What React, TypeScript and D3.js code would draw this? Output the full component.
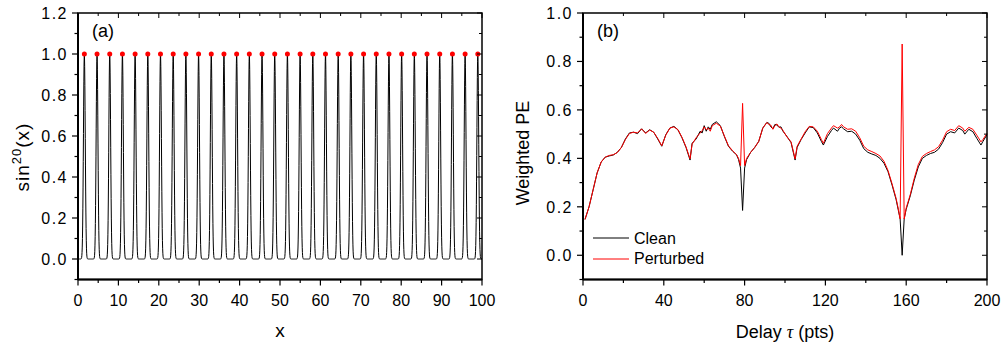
import * as d3 from 'd3';
import React from 'react';

const FONT = '"Liberation Sans", Arial, Helvetica, sans-serif';

// ---- panel (a): sin^20(x) with its maxima marked ----
const sinPower = 20;
const sinXTicks = [0, 10, 20, 30, 40, 50, 60, 70, 80, 90, 100];
const sinXMinor = [5, 15, 25, 35, 45, 55, 65, 75, 85, 95];
const sinYTicks = [0.0, 0.2, 0.4, 0.6, 0.8, 1.0, 1.2];
const sinYMinor = [-0.1, 0.1, 0.3, 0.5, 0.7, 0.9, 1.1];

// ---- panel (b): weighted permutation entropy vs delay ----
const tau = [
  1, 3, 5, 7, 9, 11, 13, 15, 17, 19, 21, 23, 25, 27, 29, 31, 33, 35, 37, 39,
  41, 43, 45, 47, 49, 51, 53, 54, 56, 58, 59, 60, 61, 62, 63, 64, 66, 68, 70, 72,
  74, 76, 77, 78, 79, 80, 81, 83, 85, 87, 89, 91, 92, 93, 94, 95, 96, 97, 98, 99,
  101, 103, 105, 106, 108, 110, 112, 114, 116, 118, 119, 121, 123, 124, 126, 127, 128, 129, 131, 133,
  135, 137, 139, 141, 143, 145, 147, 149, 151, 153, 155, 156, 157, 158, 159, 160, 162, 164, 166, 168,
  170, 172, 174, 176, 178, 180, 182, 184, 186, 188, 189, 191, 193, 195, 197, 198, 200,
];
const clean = [
  0.148, 0.2, 0.27, 0.34, 0.385, 0.405, 0.41, 0.414, 0.425, 0.445, 0.48, 0.505, 0.508, 0.502, 0.522, 0.505, 0.518, 0.508, 0.48, 0.45,
  0.498, 0.525, 0.532, 0.518, 0.485, 0.445, 0.393, 0.462, 0.48, 0.512, 0.505, 0.535, 0.512, 0.53, 0.52, 0.54, 0.551, 0.535, 0.49, 0.45,
  0.43, 0.415, 0.395, 0.36, 0.185, 0.36, 0.395, 0.425, 0.445, 0.47, 0.525, 0.548, 0.545, 0.53, 0.522, 0.54, 0.538, 0.528, 0.53, 0.512,
  0.49, 0.465, 0.393, 0.445, 0.478, 0.505, 0.53, 0.527, 0.505, 0.47, 0.455, 0.49, 0.515, 0.525, 0.512, 0.525, 0.53, 0.522, 0.51, 0.512,
  0.5, 0.475, 0.44, 0.425, 0.418, 0.412, 0.4, 0.38, 0.345, 0.29, 0.23, 0.19, 0.15, 0.0, 0.15, 0.19, 0.245, 0.31, 0.365, 0.4,
  0.412, 0.42, 0.425, 0.438, 0.465, 0.5, 0.51, 0.505, 0.525, 0.515, 0.5, 0.52, 0.51, 0.482, 0.455, 0.47, 0.498,
];
const perturbed = [
  0.148, 0.2, 0.27, 0.34, 0.385, 0.405, 0.412, 0.415, 0.424, 0.445, 0.478, 0.503, 0.508, 0.505, 0.522, 0.503, 0.517, 0.508, 0.482, 0.452,
  0.496, 0.525, 0.53, 0.518, 0.487, 0.447, 0.398, 0.458, 0.485, 0.505, 0.515, 0.53, 0.518, 0.525, 0.512, 0.535, 0.545, 0.533, 0.492, 0.452,
  0.432, 0.415, 0.4, 0.37, 0.627, 0.37, 0.4, 0.425, 0.445, 0.47, 0.525, 0.548, 0.54, 0.537, 0.52, 0.535, 0.542, 0.53, 0.525, 0.515,
  0.488, 0.468, 0.398, 0.45, 0.48, 0.51, 0.532, 0.53, 0.512, 0.478, 0.462, 0.502, 0.525, 0.535, 0.525, 0.53, 0.54, 0.53, 0.52, 0.522,
  0.512, 0.485, 0.45, 0.435, 0.428, 0.42, 0.41, 0.388, 0.35, 0.295, 0.235, 0.195, 0.15, 0.872, 0.15, 0.195, 0.25, 0.318, 0.375, 0.408,
  0.42, 0.428, 0.435, 0.448, 0.475, 0.51, 0.52, 0.515, 0.535, 0.525, 0.512, 0.528, 0.52, 0.495, 0.468, 0.478, 0.503,
];
const pexTicks = [0, 40, 80, 120, 160, 200];
const pexMinor = [20, 60, 100, 140, 180];
const peYTicks = [0.0, 0.2, 0.4, 0.6, 0.8, 1.0];
const peYMinor = [-0.1, 0.1, 0.3, 0.5, 0.7, 0.9];
const seriesNames = ['Clean', 'Perturbed'];
const seriesColors = ['#000000', '#ff0000'];

const fmt1 = d3.format('.1f');

const Frame = ({ x, y, xTicks, xMinor, yTicks, yMinor, yFmt }) => {
  const [x0, x1] = x.range();
  const [yb, yt] = y.range();
  return (
    <g>
      <rect x={x0} y={yt} width={x1 - x0} height={yb - yt} fill="none" stroke="#000" strokeWidth={1.5} />
      <line x1={x0} x2={x0} y1={yt} y2={yb} stroke="#000" strokeWidth={2} />
      <line x1={x0} x2={x1} y1={yb} y2={yb} stroke="#000" strokeWidth={2} />
      {xTicks.map(v => (
        <g key={'xt' + v}>
          <line x1={x(v)} x2={x(v)} y1={yb} y2={yb + 6} stroke="#000" strokeWidth={1.2} />
          <line x1={x(v)} x2={x(v)} y1={yt} y2={yt + 5} stroke="#000" strokeWidth={1} />
          <text x={x(v)} y={yb + 26} textAnchor="middle" fontSize={16}>{v}</text>
        </g>
      ))}
      {xMinor.map(v => (
        <g key={'xm' + v}>
          <line x1={x(v)} x2={x(v)} y1={yb} y2={yb + 3.5} stroke="#000" strokeWidth={1.2} />
          <line x1={x(v)} x2={x(v)} y1={yt} y2={yt + 3} stroke="#000" strokeWidth={1} />
        </g>
      ))}
      {yTicks.map(v => (
        <g key={'yt' + v}>
          <line x1={x0 - 6} x2={x0} y1={y(v)} y2={y(v)} stroke="#000" strokeWidth={1.2} />
          <line x1={x1 - 5} x2={x1} y1={y(v)} y2={y(v)} stroke="#000" strokeWidth={1} />
          <text x={x0 - 10} y={y(v) + 6} textAnchor="end" fontSize={16} letterSpacing={1.5}>{yFmt(v)}</text>
        </g>
      ))}
      {yMinor.map(v => (
        <g key={'ym' + v}>
          <line x1={x0 - 3.5} x2={x0} y1={y(v)} y2={y(v)} stroke="#000" strokeWidth={1.2} />
          <line x1={x1 - 3} x2={x1} y1={y(v)} y2={y(v)} stroke="#000" strokeWidth={1} />
        </g>
      ))}
    </g>
  );
};

const App = () => {
  // panel (a)
  const xa = d3.scaleLinear().domain([0, 100]).range([78, 482]);
  const ya = d3.scaleLinear().domain([-0.1, 1.2]).range([279.5, 13]);
  // the plotted function itself, as named on the y axis
  const sinPts = d3.range(0, 100.001, 0.05).map(v => [v, Math.pow(Math.sin(v), sinPower)]);
  const peaks = d3.range(0, 32).map(k => Math.PI / 2 + k * Math.PI);
  const lineA = d3.line().x(d => xa(d[0])).y(d => ya(d[1]));

  // panel (b)
  const xb = d3.scaleLinear().domain([0, 200]).range([583, 987]);
  const yb = d3.scaleLinear().domain([-0.1, 1.0]).range([279.5, 13]);
  const lineB = d3.line().x((d, i) => xb(tau[i])).y(d => yb(d));

  return (
    <svg width={1003} height={350} style={{ position: 'absolute', left: 0, top: 0, background: '#fff' }} fontFamily={FONT}>
      <rect width={1003} height={350} fill="#fff" />
      {/* (a) */}
      <path d={lineA(sinPts)} fill="none" stroke="#000" strokeWidth={1} />
      {peaks.map((p, i) => (
        <circle key={i} cx={xa(p)} cy={ya(1)} r={2.5} fill="#ff0000" />
      ))}
      <Frame x={xa} y={ya} xTicks={sinXTicks} xMinor={sinXMinor} yTicks={sinYTicks} yMinor={sinYMinor} yFmt={fmt1} />
      <text x={92} y={37} fontSize={18}>(a)</text>
      <text x={280} y={337} textAnchor="middle" fontSize={19}>x</text>
      <text transform="translate(29,157) rotate(-90)" textAnchor="middle" fontSize={19} letterSpacing={1}>
        sin<tspan fontSize={13} dy={-8}>20</tspan><tspan dy={8}>(x)</tspan>
      </text>

      {/* (b) */}
      <path d={lineB(clean)} fill="none" stroke={seriesColors[0]} strokeWidth={1} />
      <path d={lineB(perturbed)} fill="none" stroke={seriesColors[1]} strokeWidth={1} />
      <Frame x={xb} y={yb} xTicks={pexTicks} xMinor={pexMinor} yTicks={peYTicks} yMinor={peYMinor} yFmt={fmt1} />
      <text x={597} y={37} fontSize={18}>(b)</text>
      <text x={785} y={338} textAnchor="middle" fontSize={18}>
        Delay <tspan fontFamily='"Liberation Serif", serif' fontStyle="italic">τ</tspan> (pts)
      </text>
      <text transform="translate(529,153) rotate(-90)" textAnchor="middle" fontSize={18}>Weighted PE</text>
      {seriesNames.map((name, i) => (
        <g key={name}>
          <line x1={593} x2={629} y1={238 + i * 21} y2={238 + i * 21} stroke={seriesColors[i]} strokeWidth={1} />
          <text x={634} y={244 + i * 20} fontSize={16}>{name}</text>
        </g>
      ))}
    </svg>
  );
};

export default App;
